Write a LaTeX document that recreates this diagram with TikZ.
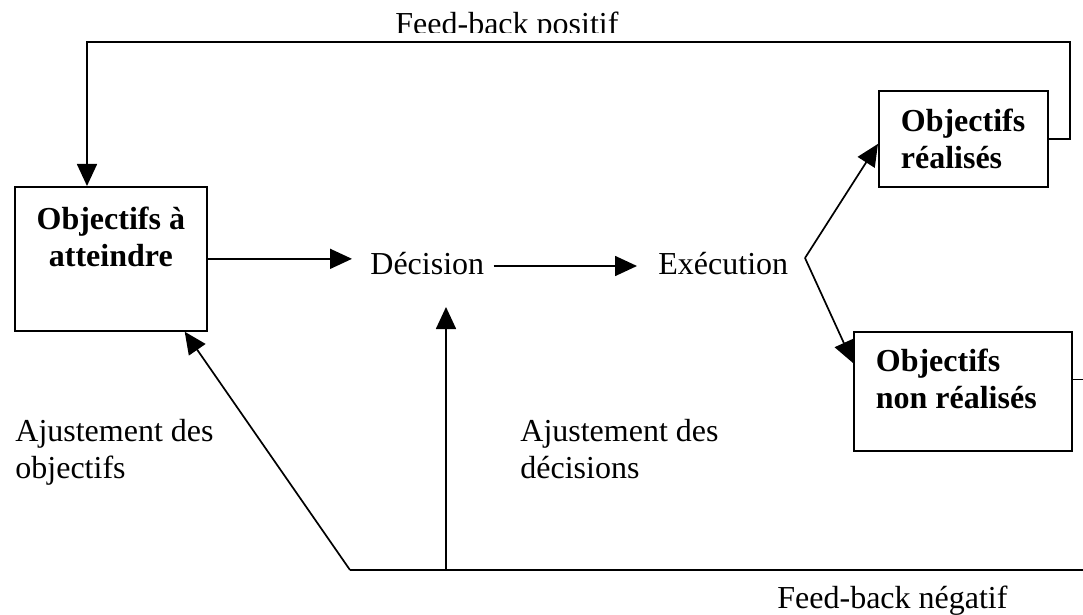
\documentclass[tikz,border=0pt]{standalone}
\usepackage{fontspec}
\setmainfont{Liberation Serif}
\usetikzlibrary{arrows.meta}
\begin{document}
\begin{tikzpicture}[x=0.5pt,y=-0.5pt,
  every node/.style={font=\fontsize{16pt}{18.5pt}\selectfont},
  conn/.style={line width=0.85pt, draw=black},
  arr/.style={conn, -{Triangle[length=11pt,width=10pt]}},
  boxnode/.style={draw, line width=0.85pt, inner sep=0pt, anchor=north west,
    font=\bfseries\fontsize{16pt}{18.5pt}\selectfont},
  word/.style={inner sep=0pt, anchor=base west},
  dword/.style={word, inner xsep=9pt, text height=11pt, text depth=2pt},
  lbl/.style={inner sep=0pt, anchor=north west, align=left}]
\useasboundingbox (0,0) rectangle (1083,615);

% boxes
\node[boxnode] (goal) at (14,186)
  {\parbox[c][72pt][t]{96pt}{\vspace*{10pt}\centering Objectifs à\\atteindre}};
\node[boxnode] (reached) at (878,90)
  {\parbox[c][48pt][t]{84.5pt}{\vspace*{9pt}\raggedright\leftskip=11pt Objectifs\\réalisés}};
\node[boxnode] (notreached) at (853,331)
  {\parbox[c][59.5pt][t]{109pt}{\vspace*{8.5pt}\raggedright\leftskip=11pt Objectifs\\non réalisés}};

% words
\node[dword] (dec) at (352,275) {Décision};
\node[dword] (exe) at (640,275) {Exécution};

% helper coordinates
\coordinate (redge) at (1083,0);
\coordinate (fork) at (805,258);
\coordinate (tr) at (1070,42);
\coordinate (tl) at (87,42);
\coordinate (bl) at (350,570);
\coordinate (vb) at (446,570);
\coordinate (vt) at (446,307);

% main flow
\draw[arr] (goal.east) -- (goal.east -| dec.west);
\draw[arr] ([xshift=-4.5pt]dec.east) -- ([xshift=-1.5pt]exe.west);
\draw[arr] (fork) -- ([yshift=-2.5pt]reached.west);
\draw[arr] (fork) -- ([yshift=-16pt]notreached.north west);

% positive feedback
\draw[arr] (reached.east) -| (tr) -- (tl) -- (tl |- goal.north);

% negative feedback
\draw[conn] ([yshift=6pt]notreached.east) -- ([yshift=6pt]notreached.east -| redge);
\draw[conn] (bl -| redge) -- (bl);
\draw[arr] (bl) -- ([xshift=-11.5pt]goal.south east);
\draw[arr] (vb) -- (vt);

% labels
\node[lbl] (adjg) at (15,419) {Ajustement des\\objectifs};
\node[lbl] (adjd) at (520,419) {Ajustement des\\décisions};
\node[word] (fbn) at (777,608) {Feed-back négatif};
\begin{scope}
  \clip (0,0) rectangle (1083,33);
  \node[word] (fbp) at (395,35) {Feed-back positif};
\end{scope}
\end{tikzpicture}
\end{document}
